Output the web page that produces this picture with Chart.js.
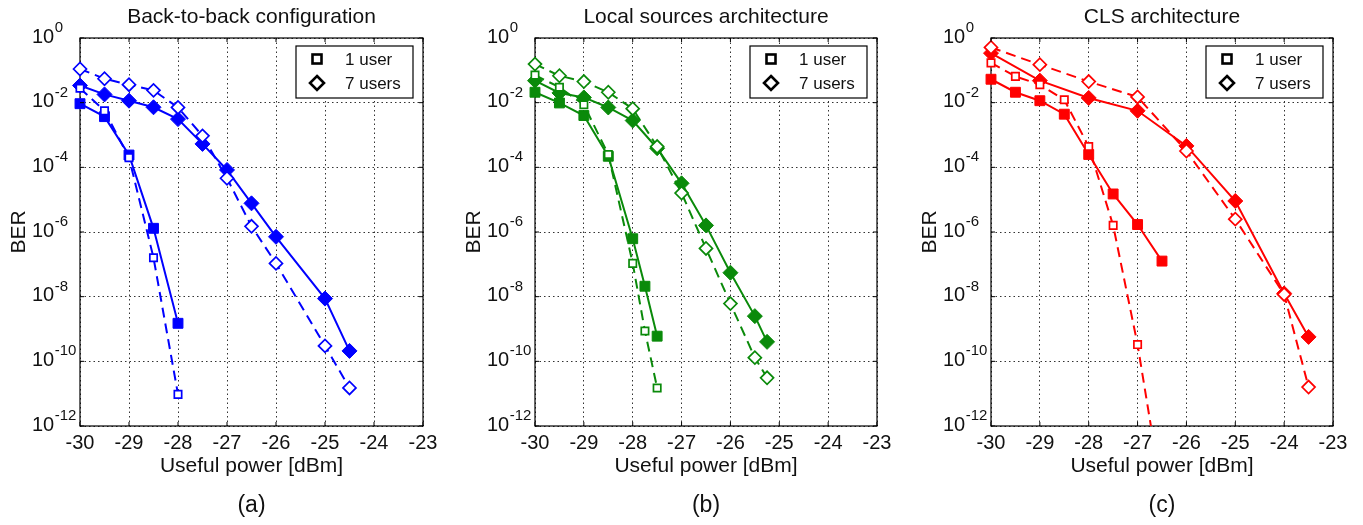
<!DOCTYPE html>
<html>
<head>
<meta charset="utf-8">
<script src="https://cdn.jsdelivr.net/npm/chart.js@4/dist/chart.umd.min.js"></script>
<style>
  body { margin: 0; background: #fff; }
  #wrap { position: relative; width: 1363px; height: 525px; }
  #wrap canvas { position: absolute; left: 0; top: 0; }
</style>
</head>
<body>
<div id="wrap">
  <canvas id="chartA" width="1363" height="525"></canvas>
  <canvas id="chartB" width="1363" height="525"></canvas>
  <canvas id="chartC" width="1363" height="525"></canvas>
</div>
<script>
// axes
const xTicks = [-30, -29, -28, -27, -26, -25, -24, -23];
const yExponents = [0, -2, -4, -6, -8, -10, -12];

// (a) back-to-back
const powerA1 = [-30, -29.5, -29, -28.5, -28];
const berA1Solid = [9.3e-3, 3.7e-3, 2.4e-4, 1.3e-6, 1.5e-9];
const berA1Dash = [2.8e-2, 5.6e-3, 2.0e-4, 1.6e-7, 9.5e-12];
const powerA7 = [-30, -29.5, -29, -28.5, -28, -27.5, -27, -26.5, -26, -25, -24.5];
const berA7Solid = [3.4e-2, 1.8e-2, 1.15e-2, 7.2e-3, 3.1e-3, 5.3e-4, 8.3e-5, 7.7e-6, 7.1e-7, 8.7e-9, 2.1e-10];
const berA7Dash = [0.11, 5.5e-2, 3.6e-2, 2.4e-2, 7.1e-3, 9.4e-4, 4.6e-5, 1.5e-6, 1.07e-7, 3.0e-10, 1.5e-11];

// (b) local sources
const powerB1 = [-30, -29.5, -29, -28.5, -28, -27.75, -27.5];
const berB1Solid = [2.1e-2, 9.8e-3, 4.0e-3, 2.2e-4, 6.2e-7, 2.1e-8, 6.0e-10];
const berB1Dash = [7.1e-2, 3.0e-2, 8.6e-3, 2.5e-4, 1.07e-7, 8.7e-10, 1.5e-11];
const powerB7 = [-30, -29.5, -29, -28.5, -28, -27.5, -27, -26.5, -26, -25.5, -25.25];
const berB7Solid = [4.8e-2, 2.0e-2, 1.45e-2, 7.1e-3, 2.8e-3, 3.9e-4, 3.2e-5, 1.6e-6, 5.5e-8, 2.5e-9, 4.0e-10];
const berB7Dash = [0.156, 6.8e-2, 4.5e-2, 2.1e-2, 6.5e-3, 4.4e-4, 1.6e-5, 3.1e-7, 6.1e-9, 1.3e-10, 3.1e-11];

// (c) CLS
const powerC1 = [-30, -29.5, -29, -28.5, -28, -27.5, -27, -26.5];
const berC1Solid = [5.3e-2, 2.1e-2, 1.15e-2, 4.4e-3, 2.5e-4, 1.5e-5, 1.7e-6, 1.26e-7];
const berC1Dash = [0.17, 6.5e-2, 3.6e-2, 1.23e-2, 4.4e-4, 1.6e-6, 3.3e-10, 8e-15];
const powerC7 = [-30, -29, -28, -27, -26, -25, -24, -23.5];
const berC7Solid = [0.34, 4.8e-2, 1.4e-2, 5.6e-3, 4.6e-4, 9.1e-6, 1.26e-8, 5.7e-10];
const berC7Dash = [0.51, 0.15, 4.5e-2, 1.5e-2, 3.2e-4, 2.5e-6, 1.17e-8, 1.6e-11];

const FONT = "'Liberation Sans', Arial, sans-serif";
const W = 1363, H = 525;

const pts = (xs, ys) => xs.map((x, i) => ({ x: x, y: ys[i] }));

function series(color, xs, ys, dashed, style) {
    const open = dashed;
    return {
        data: pts(xs, ys),
        showLine: true,
        clip: { left: 12, top: 12, right: 12, bottom: 0 },
        borderColor: color,
        borderWidth: 2,
        borderDash: dashed ? [10, 6] : [],
        pointStyle: style,
        pointRadius: style === 'rect' ? (open ? 5.2 : 7) : (open ? 6.5 : 7.5),
        pointBorderWidth: open ? 1.7 : 1,
        pointBackgroundColor: open ? '#fff' : color,
        pointBorderColor: color
    };
}

// frame, labels, legend drawn on top of the plot
const decorPlugin = {
    id: 'decor',
    beforeDatasetsDraw(chart) {
        const c = chart.ctx, a = chart.chartArea;
        c.save();
        c.strokeStyle = '#000';
        c.lineWidth = 1.2;
        c.strokeRect(a.left, a.top, a.right - a.left, a.bottom - a.top);
        c.restore();
    },
    afterDraw(chart, args, opts) {
        const c = chart.ctx, a = chart.chartArea;
        const xs = chart.scales.x, ys = chart.scales.y;
        c.save();
        c.setLineDash([]);
        c.strokeStyle = '#000';

        // inward ticks
        c.lineWidth = 1;
        c.beginPath();
        xTicks.forEach(v => {
            const px = xs.getPixelForValue(v);
            c.moveTo(px, a.bottom); c.lineTo(px, a.bottom - 4);
            c.moveTo(px, a.top); c.lineTo(px, a.top + 4);
        });
        yExponents.forEach(e => {
            const py = ys.getPixelForValue(Math.pow(10, e));
            c.moveTo(a.left, py); c.lineTo(a.left + 4, py);
            c.moveTo(a.right, py); c.lineTo(a.right - 4, py);
        });
        c.stroke();

        c.fillStyle = '#111';
        // x tick labels
        c.font = '20px ' + FONT;
        c.textAlign = 'center';
        c.textBaseline = 'middle';
        xTicks.forEach(v => c.fillText(String(v), xs.getPixelForValue(v), a.bottom + 17));

        // y tick labels 10^e
        yExponents.forEach(e => {
            const py = ys.getPixelForValue(Math.pow(10, e));
            c.textAlign = 'left';
            c.font = '20px ' + FONT;
            c.fillText('10', a.left - 48, py - 1);
            const w = c.measureText('10').width;
            c.font = '15px ' + FONT;
            c.fillText(String(e), a.left - 48 + w + 0.5, py - 10);
        });

        const cx = (a.left + a.right) / 2;
        c.textAlign = 'center';
        c.font = '21px ' + FONT;
        c.fillText(opts.title, cx, 17);
        c.fillText('Useful power [dBm]', cx, a.bottom + 40);
        c.font = '23px ' + FONT;
        c.fillText(opts.caption, cx, a.bottom + 80);

        c.save();
        c.translate(a.left - 61, (a.top + a.bottom) / 2);
        c.rotate(-Math.PI / 2);
        c.font = '21px ' + FONT;
        c.fillText('BER', 0, 0);
        c.restore();

        // legend
        const lx = a.right - 127, ly = a.top + 8;
        c.fillStyle = '#fff';
        c.fillRect(lx, ly, 117, 52);
        c.strokeStyle = '#000';
        c.lineWidth = 1.2;
        c.strokeRect(lx, ly, 117, 52);
        c.lineWidth = 2.6;
        c.strokeRect(lx + 16.5, ly + 8.5, 9, 9);
        c.beginPath();
        c.moveTo(lx + 21, ly + 30); c.lineTo(lx + 28, ly + 37);
        c.lineTo(lx + 21, ly + 44); c.lineTo(lx + 14, ly + 37);
        c.closePath();
        c.stroke();
        c.fillStyle = '#111';
        c.textAlign = 'left';
        c.font = '17px ' + FONT;
        c.fillText('1 user', lx + 49, ly + 14);
        c.fillText('7 users', lx + 49, ly + 38);
        c.restore();
    }
};

function makeChart(id, pad, title, caption, color, p1, s1, d1, p7, s7, d7) {
    new Chart(document.getElementById(id), {
        type: 'scatter',
        data: {
            datasets: [
                series(color, p1, d1, true, 'rect'),
                series(color, p7, d7, true, 'rectRot'),
                series(color, p1, s1, false, 'rect'),
                series(color, p7, s7, false, 'rectRot')
            ]
        },
        options: {
            responsive: false,
            animation: false,
            devicePixelRatio: 1,
            layout: { padding: { left: pad[0], right: W - pad[1], top: 38, bottom: H - 426 } },
            plugins: {
                legend: { display: false },
                tooltip: { enabled: false },
                decor: { title: title, caption: caption }
            },
            scales: {
                x: {
                    type: 'linear', min: -30, max: -23,
                    afterBuildTicks: s => { s.ticks = xTicks.map(v => ({ value: v })); },
                    ticks: { display: false },
                    grid: { color: '#333', lineWidth: 1, drawTicks: false },
                    border: { display: false, dash: [1.5, 3] }
                },
                y: {
                    type: 'logarithmic', min: 1e-12, max: 1,
                    afterBuildTicks: s => { s.ticks = yExponents.map(e => ({ value: Math.pow(10, e) })); },
                    ticks: { display: false },
                    grid: { color: '#333', lineWidth: 1, drawTicks: false },
                    border: { display: false, dash: [1.5, 3] }
                }
            }
        },
        plugins: [decorPlugin]
    });
}

makeChart('chartA', [80, 423], 'Back-to-back configuration', '(a)', '#0000ff',
    powerA1, berA1Solid, berA1Dash, powerA7, berA7Solid, berA7Dash);
makeChart('chartB', [535, 877], 'Local sources architecture', '(b)', '#0a8a0a',
    powerB1, berB1Solid, berB1Dash, powerB7, berB7Solid, berB7Dash);
makeChart('chartC', [991, 1333], 'CLS architecture', '(c)', '#ff0000',
    powerC1, berC1Solid, berC1Dash, powerC7, berC7Solid, berC7Dash);
</script>
</body>
</html>
